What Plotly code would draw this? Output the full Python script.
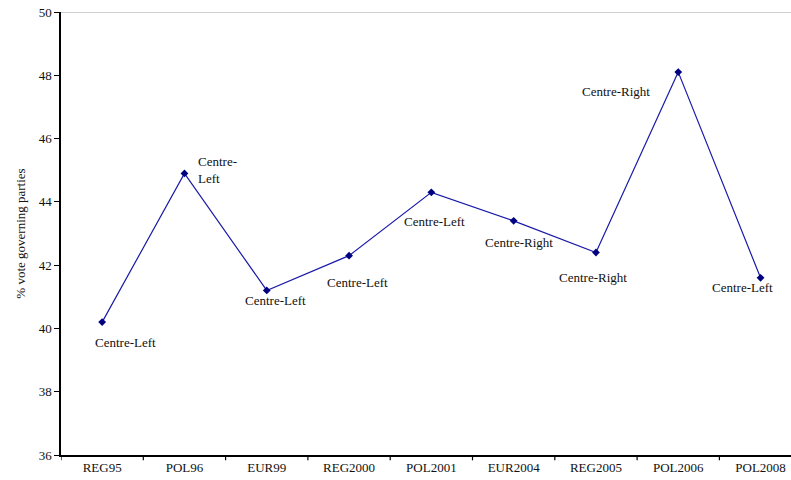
import plotly.graph_objects as go

elections = ["REG95", "POL96", "EUR99", "REG2000", "POL2001",
             "EUR2004", "REG2005", "POL2006", "POL2008"]
vote_share = [40.2, 44.9, 41.2, 42.3, 44.3, 43.4, 42.4, 48.1, 41.6]
government = ["Centre-Left", "Centre-<br>Left", "Centre-Left", "Centre-Left",
              "Centre-Left", "Centre-Right", "Centre-Right", "Centre-Right",
              "Centre-Left"]

# label offsets (pixels) relative to each point
label_dx = [23, 12, 9, 8, 3, 5, -3, -62, -18]
label_dy = [-20, 3, -10, -27, -29, -22, -25, -19, -10]
label_anchor = ["center", "left", "center", "center", "center",
                "center", "center", "center", "center"]

FONT = "Liberation Serif, Times New Roman, serif"
NAVY = "#000080"

fig = go.Figure()
fig.add_trace(go.Scatter(
    x=list(range(len(elections))), y=vote_share,
    mode="lines+markers",
    line=dict(color="#1a1aa8", width=1.2),
    marker=dict(symbol="diamond", size=6, color=NAVY),
    showlegend=False,
))

for i, (v, t) in enumerate(zip(vote_share, government)):
    fig.add_annotation(
        x=i, y=v, text=t, showarrow=False,
        xshift=label_dx[i], yshift=label_dy[i],
        xanchor=label_anchor[i], align="left",
        font=dict(family=FONT, size=13, color="#111111"),
    )

# grey line along the top of the plot area
fig.add_shape(type="line", xref="paper", yref="y", x0=0, x1=1, y0=50, y1=50,
              line=dict(color="#a0a0a0", width=1))

fig.update_layout(
    width=791, height=480,
    margin=dict(l=61, r=0, t=12, b=25),
    plot_bgcolor="white", paper_bgcolor="white",
    font=dict(family=FONT, size=13, color="#111111"),
)
fig.update_xaxes(
    range=[-0.5, 8.37],
    tickmode="array",
    tickvals=list(range(len(elections))),
    ticktext=elections,
    showgrid=False, zeroline=False,
    showline=True, linecolor="black", linewidth=1.5,
    ticks="", tickfont=dict(family=FONT, size=13),
)
# boundary tick marks between categories
for b in range(len(elections)):
    fig.add_shape(type="line", xref="x", yref="paper",
                  x0=b - 0.5, x1=b - 0.5, y0=0, y1=-0.012,
                  line=dict(color="black", width=1.2))
fig.update_yaxes(
    range=[36, 50], dtick=2,
    showgrid=False, zeroline=False,
    showline=True, linecolor="black", linewidth=1.5,
    ticks="outside", ticklen=5, tickcolor="black",
    tickfont=dict(family=FONT, size=13),
    title=dict(text="% vote governing parties",
               font=dict(family=FONT, size=13), standoff=10),
)

fig.write_html("out.html")
